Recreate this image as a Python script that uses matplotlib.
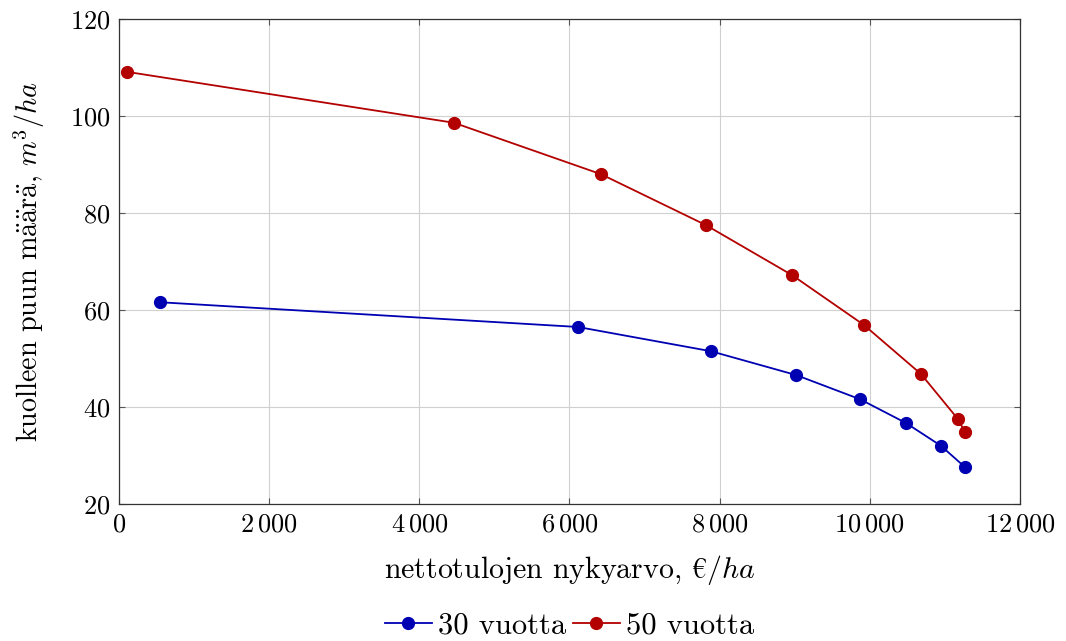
import matplotlib
matplotlib.use("Agg")
import matplotlib.pyplot as plt
from matplotlib.ticker import FixedLocator

plt.rcParams['font.family'] = ['cmr10', 'DejaVu Serif']
plt.rcParams['mathtext.fontset'] = 'cm'
plt.rcParams['axes.formatter.use_mathtext'] = True

x30 = [546, 6113, 7885, 9017, 9870, 10482, 10948, 11268]
y30 = [61.6, 56.5, 51.5, 46.6, 41.6, 36.7, 32.0, 27.6]
x50 = [107, 4462, 6420, 7818, 8964, 9923, 10682, 11175, 11268]
y50 = [109.1, 98.6, 88.0, 77.5, 67.2, 56.9, 46.8, 37.5, 34.8]

xticks = [0, 2000, 4000, 6000, 8000, 10000, 12000]
xticklabels = [r'$0$', r'$2\,000$', r'$4\,000$', r'$6\,000$', r'$8\,000$', r'$10\,000$', r'$12\,000$']
yticks = [20, 40, 60, 80, 100, 120]
yticklabels = [r'$20$', r'$40$', r'$60$', r'$80$', r'$100$', r'$120$']

fig = plt.figure(figsize=(10.66, 6.41), dpi=100)
ax_rect = [0.1116, 0.2137, 0.8452, 0.7567]
ax = fig.add_axes(ax_rect)

blue = '#0000b3'
red = '#b30000'
ax.plot(x30, y30, color=blue, lw=1.3, marker='o', ms=8.5, label='30 vuotta')
ax.plot(x50, y50, color=red, lw=1.3, marker='o', ms=8.5, label='50 vuotta')

ax.set_xlim(0, 12000)
ax.set_ylim(20, 120)
ax.xaxis.set_major_locator(FixedLocator(xticks))
ax.set_xticklabels(xticklabels)
ax.yaxis.set_major_locator(FixedLocator(yticks))
ax.set_yticklabels(yticklabels)
ax.grid(True, color='#d0d0d0', lw=0.8)
ax.set_axisbelow(True)
ax.tick_params(direction='in', top=True, right=True, length=4, color='#555555', labelsize=19, pad=6)
for s in ax.spines.values():
    s.set_linewidth(0.9)
    s.set_color('#333333')

ax.set_xlabel(r'nettotulojen nykyarvo, $\mathrm{€}/ha$', fontsize=21.5, labelpad=12)
ax.set_ylabel(r'kuolleen puun m$\ddot{\mathrm{a}}\ddot{\mathrm{a}}$r$\ddot{\mathrm{a}}$, $m^3/ha$',
              fontsize=20.3, labelpad=17)

fig.legend(*ax.get_legend_handles_labels(), loc='center',
           bbox_to_anchor=(ax_rect[0] + ax_rect[2] / 2, 0.023), ncol=2,
           frameon=False, fontsize=22, handlelength=1.55, handletextpad=0.2, columnspacing=0.2,
           borderpad=0.1)

fig.savefig('out.png', dpi=100)
